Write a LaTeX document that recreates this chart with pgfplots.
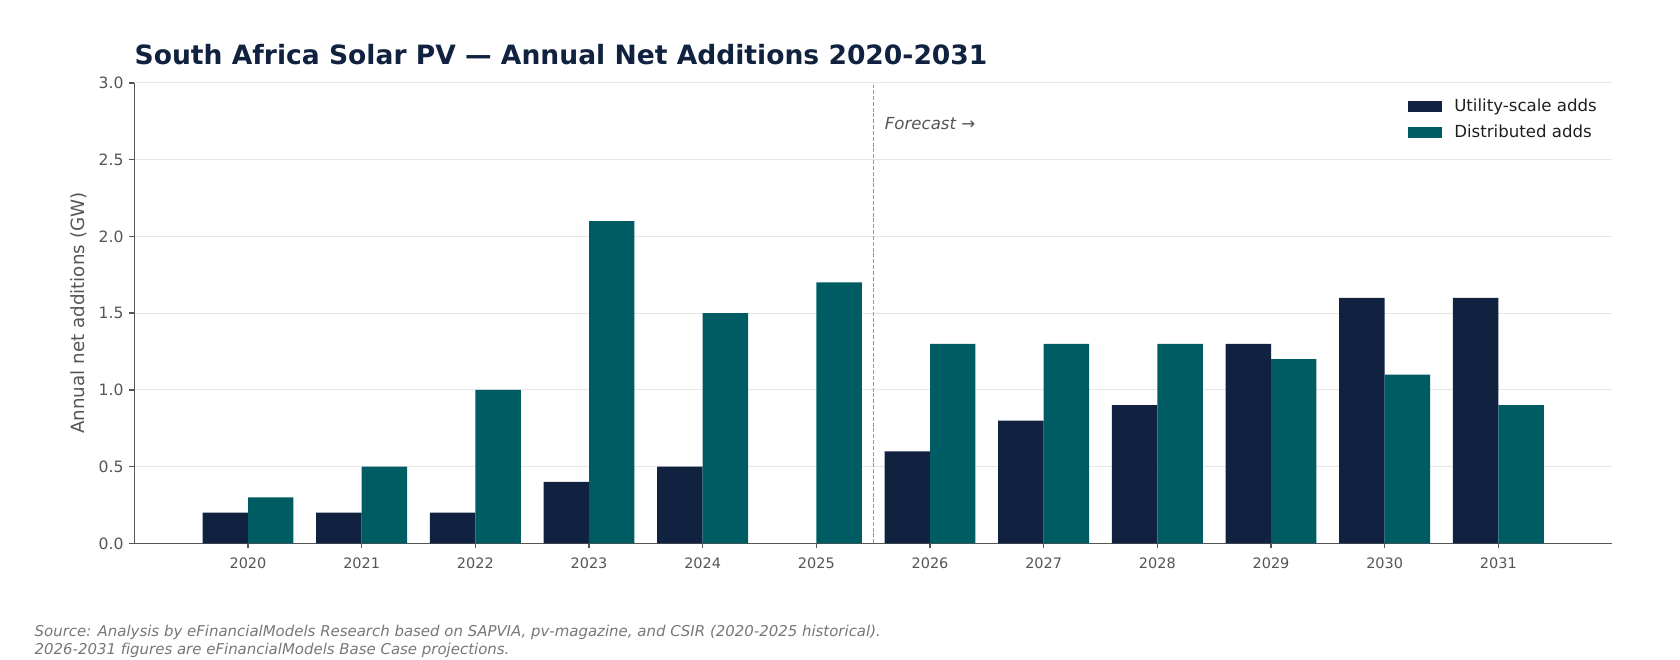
\documentclass[border=0pt]{standalone}
\usepackage{fontspec}
\setmainfont{DejaVu Sans}[Ligatures=NoCommon]
\usepackage{pgfplots}
\pgfplotsset{compat=1.18}
\definecolor{navy}{HTML}{10223F}
\definecolor{tealc}{HTML}{005C63}
\definecolor{tickgray}{HTML}{555555}
\definecolor{srcgray}{HTML}{777777}
\definecolor{gridgray}{HTML}{E6E6E6}
\begin{document}
\begin{tikzpicture}
\path[use as bounding box] (0,0) rectangle (1008bp,396bp);
\begin{axis}[
  at={(80.6bp,70bp)}, anchor=south west,
  scale only axis, width=886.6bp, height=276.2bp,
  xmin=-1, xmax=12, ymin=0, ymax=3,
  enlargelimits=false,
  ybar, bar width=0.4,
  axis lines*=left,
  axis line style={draw=tickgray, line width=0.8bp, -},
  xtick={0,...,11},
  xticklabels={2020,2021,2022,2023,2024,2025,2026,2027,2028,2029,2030,2031},
  ytick={0,0.5,...,3},
  tick align=outside,
  major tick length=3bp,
  tick style={draw=tickgray, line width=0.8bp},
  ymajorgrids,
  grid style={draw=gridgray, line width=0.6bp},
  /pgf/number format/assume math mode=true,
  yticklabel style={font=\fontsize{9.4}{11}\selectfont, text=tickgray, /pgf/number format/.cd, fixed, fixed zerofill, precision=1},
  xticklabel style={font=\fontsize{8.7}{10}\selectfont, text=tickgray, yshift=-2.4bp},
  every axis y label/.style={at={(axis description cs:-0.0379,0.5)}, rotate=90, anchor=center},
  ylabel={Annual net additions (GW)},
  ylabel style={font=\fontsize{11}{13}\selectfont, text=tickgray},
  legend style={draw=none, fill=none, at={(axis description cs:0.995,0.978)}, anchor=north east,
    font=\fontsize{10}{12}\selectfont, text=black!88, row sep=3.5bp,
    nodes={inner sep=1.5bp}},
  legend cell align=left,
]
\addplot[fill=navy, draw=none, bar shift=-0.2,
  legend image code/.code={\fill[navy] (0bp,-3.3bp) rectangle (20bp,3.3bp); \path (26bp,0bp);}]
  coordinates {(0,0.2) (1,0.2) (2,0.2) (3,0.4) (4,0.5) (6,0.6) (7,0.8) (8,0.9) (9,1.3) (10,1.6) (11,1.6)};
\addlegendentry{Utility-scale adds}
\addplot[fill=tealc, draw=none, bar shift=0.2,
  legend image code/.code={\fill[tealc] (0bp,-3.3bp) rectangle (20bp,3.3bp); \path (26bp,0bp);}]
  coordinates {(0,0.3) (1,0.5) (2,1.0) (3,2.1) (4,1.5) (5,1.7) (6,1.3) (7,1.3) (8,1.3) (9,1.2) (10,1.1) (11,0.9)};
\addlegendentry{Distributed adds}
\draw[draw=black!40, line width=0.7bp, dash pattern=on 2.4bp off 1.1bp] (axis cs:5.5,0) -- (axis cs:5.5,2.985);
\node[anchor=base west, font=\fontsize{10}{12}\selectfont\itshape, text=tickgray, inner sep=0pt] at (axis cs:5.6,2.70) {Forecast →};
\end{axis}
\node[anchor=base west, inner sep=0pt, font=\fontsize{16}{19}\selectfont\bfseries, text=navy] at (80.6bp,357.4bp) {South Africa Solar PV — Annual Net Additions 2020-2031};
\node[anchor=base west, inner sep=0pt, font=\fontsize{9}{11}\selectfont\itshape, text=srcgray] at (20.6bp,14.4bp) {Source: Analysis by eFinancialModels Research based on SAPVIA, pv-magazine, and CSIR (2020-2025 historical).};
\node[anchor=base west, inner sep=0pt, font=\fontsize{9}{11}\selectfont\itshape, text=srcgray] at (20.6bp,3.6bp) {2026-2031 figures are eFinancialModels Base Case projections.};
\end{tikzpicture}
\end{document}
